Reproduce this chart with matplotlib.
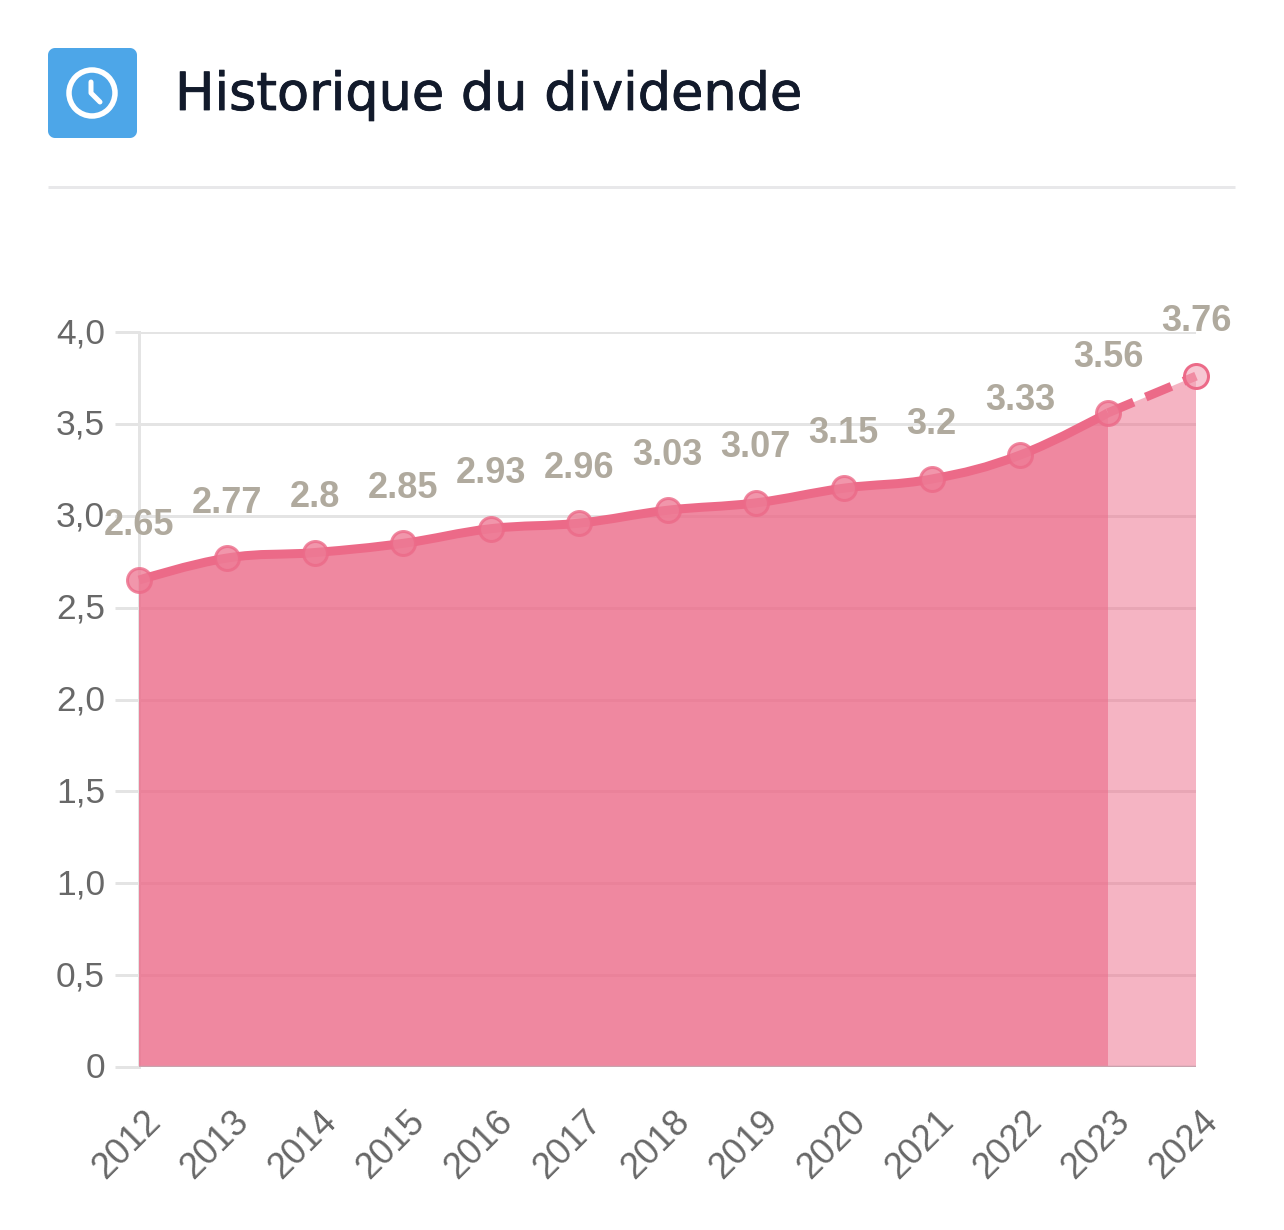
import matplotlib
matplotlib.use("Agg")
import matplotlib.pyplot as plt
import matplotlib.patheffects as pe
import numpy as np
from matplotlib.patches import Circle, FancyBboxPatch, PathPatch
from matplotlib.path import Path
from matplotlib.transforms import ScaledTranslation

W, H = 1284, 1230
PX = 72 / 100  # points per pixel at dpi 100

years = [2012, 2013, 2014, 2015, 2016, 2017, 2018, 2019, 2020, 2021, 2022, 2023, 2024]
dividends = [2.65, 2.77, 2.8, 2.85, 2.93, 2.96, 3.03, 3.07, 3.15, 3.2, 3.33, 3.56, 3.76]
value_labels = ["2.65", "2.77", "2.8", "2.85", "2.93", "2.96", "3.03", "3.07", "3.15", "3.2", "3.33", "3.56", "3.76"]
y_ticks = [0, 0.5, 1.0, 1.5, 2.0, 2.5, 3.0, 3.5, 4.0]
y_tick_labels = ["0", "0,5", "1,0", "1,5", "2,0", "2,5", "3,0", "3,5", "4,0"]
title = "Historique du dividende"

PINK = "#ec6a88"
GREY = "#686868"
LABEL = "#b0aa9e"
GRID = "#e4e4e4"


def smooth_path(x, y, tension=0.2):
    # bezier through the points, same idea as a chart.js line tension
    verts = [(x[0], y[0])]
    codes = [Path.MOVETO]
    n = len(x)
    for i in range(n - 1):
        a = max(i - 1, 0)
        b = min(i + 2, n - 1)
        c1 = (x[i] + tension * (x[i + 1] - x[a]), y[i] + tension * (y[i + 1] - y[a])) if i > 0 else (x[i], y[i])
        c2 = (x[i + 1] - tension * (x[b] - x[i]), y[i + 1] - tension * (y[b] - y[i])) if i < n - 2 else (x[i + 1], y[i + 1])
        verts += [c1, c2, (x[i + 1], y[i + 1])]
        codes += [Path.CURVE4] * 3
    return verts, codes


fig = plt.figure(figsize=(W / 100, H / 100), dpi=100, facecolor="white")

# header drawn in pixel coordinates
top = fig.add_axes([0, 0, 1, 1])
top.set_xlim(0, W)
top.set_ylim(H, 0)
top.axis("off")
top.add_patch(FancyBboxPatch((54, 54), 77, 78, boxstyle="round,pad=0,rounding_size=1", fc="#4da6e8", ec="#4da6e8", lw=12 * PX, joinstyle="round"))
top.add_patch(Circle((92, 93), 23, fc="none", ec="white", lw=5.5 * PX))
top.plot([91, 91, 100], [82, 93, 102], color="white", lw=5 * PX, solid_capstyle="round", solid_joinstyle="round")
top.plot([48, 1235], [187, 187], color="#e8e8ea", lw=3 * PX, solid_capstyle="butt")
head = top.text(175, 110, title, family="DejaVu Sans", fontsize=37.8, color="#121a2b", ha="left", va="baseline")
head.set_path_effects([pe.withStroke(linewidth=0.6, foreground="#121a2b")])

ax = fig.add_axes([139 / W, 1 - 1067 / H, (1196 - 139) / W, (1067 - 332) / H])
ax.patch.set_alpha(0)
ax.set_xlim(years[0], years[-1])
ax.set_ylim(0, 4)
for s in ax.spines.values():
    s.set_visible(False)

ax.set_yticks(y_ticks, y_tick_labels)
ax.set_xticks(years, [str(y) for y in years])
ax.grid(axis="y", color=GRID, lw=3 * PX, zorder=1)
ax.plot([years[0], years[0]], [0, 4], color=GRID, lw=3 * PX, zorder=1, clip_on=False)
ax.tick_params(axis="y", length=24 * PX, width=3 * PX, color=GRID, pad=10 * PX, labelsize=25.5, labelcolor=GREY)
ax.tick_params(axis="x", length=0, labelsize=26, labelcolor=GREY)
y_shift = ScaledTranslation(0, 2 / 100, fig.dpi_scale_trans)
for t in ax.get_yticklabels():
    t.set_family("Liberation Sans")
    t.set_transform(t.get_transform() + y_shift)
offset = ScaledTranslation(-12 / 100, -78 / 100, fig.dpi_scale_trans)
for t in ax.get_xticklabels():
    t.set_family("Liberation Sans")
    t.set_rotation(45)
    t.set_rotation_mode("anchor")
    t.set_ha("center")
    t.set_va("center")
    t.set_transform(ax.get_xaxis_transform() + offset)
    t.set_y(0)

hist_x, hist_y = years[:-1], dividends[:-1]
fc_x, fc_y = years[-2:], dividends[-2:]

verts, codes = smooth_path(hist_x, hist_y)
area = PathPatch(Path(verts + [(hist_x[-1], 0), (hist_x[0], 0), verts[0]], codes + [Path.LINETO] * 3),
                 fc=PINK, alpha=0.8, ec="none", zorder=2)
area.set_snap(True)
ax.add_patch(area)
fc_area = ax.fill_between(fc_x, fc_y, 0, color=PINK, alpha=0.5, lw=0, zorder=2)
fc_area.set_snap(True)
ax.plot([years[0], years[-1]], [0, 0], color="#c9a3ae", lw=2.5 * PX, zorder=3, solid_capstyle="butt")

ax.add_patch(PathPatch(Path(verts, codes), fc="none", ec=PINK, lw=9 * PX, zorder=4, capstyle="butt", clip_on=False))
ax.plot(fc_x, fc_y, color=PINK, lw=9 * PX, dashes=(3.1, 1.45), zorder=4, clip_on=False, dash_capstyle="butt")

ax.plot(hist_x, hist_y, "o", ms=24 * PX, mfc="#ee7c96cc", mec="#ec6a88cc", mew=3 * PX, zorder=5, clip_on=False)
ax.plot(fc_x[1:], fc_y[1:], "o", ms=24 * PX, mfc="#f3a3b699", mec=PINK, mew=3 * PX, zorder=5, clip_on=False)

for x, y, s in zip(years, dividends, value_labels):
    ax.annotate(s, (x, y), xytext=(0, 55 * PX), textcoords="offset points", ha="center", va="center",
                family="Liberation Sans", fontweight="bold", fontsize=26, color=LABEL, zorder=6, annotation_clip=False)

fig.savefig("out.png", dpi=100)
